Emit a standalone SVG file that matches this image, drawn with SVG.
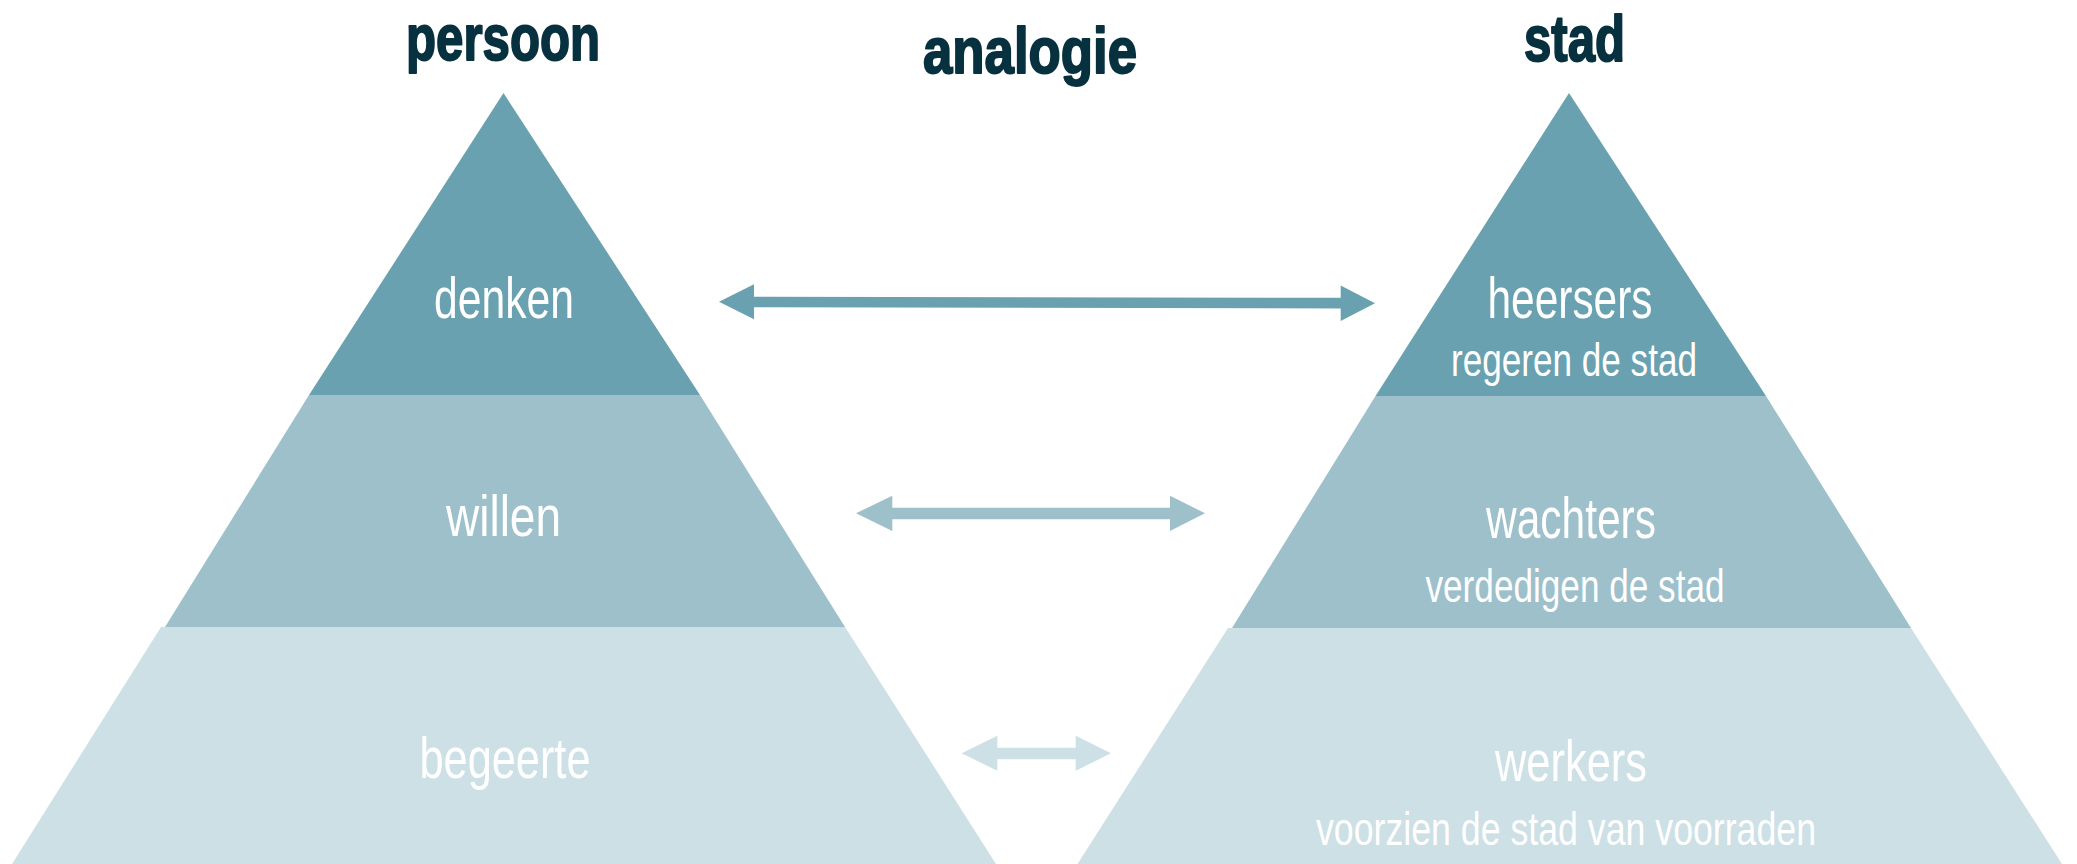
<svg xmlns="http://www.w3.org/2000/svg" width="2077" height="864" viewBox="0 0 2077 864">
  <style>
    .t1 { fill: #69a1b0; }
    .t2 { fill: #9dc0ca; }
    .t3 { fill: #cde0e6; }
    .title { font-family: "Liberation Sans", Arial, sans-serif; font-weight: bold; font-size: 64px; fill: #07313f; stroke: #07313f; stroke-width: 2px; stroke-linejoin: round; text-anchor: middle; }
    .lbl { font-family: "Liberation Sans", Arial, sans-serif; font-size: 58px; fill: #ffffff; text-anchor: middle; }
    .sub { font-family: "Liberation Sans", Arial, sans-serif; font-size: 46px; fill: #ffffff; text-anchor: middle; }
  </style>
  <rect width="2077" height="864" fill="#ffffff"/>

  <g id="title-persoon"><text class="title" x="503" y="60" textLength="194" lengthAdjust="spacingAndGlyphs">persoon</text></g>
  <g id="title-analogie"><text class="title" x="1030" y="73" textLength="214" lengthAdjust="spacingAndGlyphs">analogie</text></g>
  <g id="title-stad"><text class="title" x="1574.5" y="61" textLength="101" lengthAdjust="spacingAndGlyphs">stad</text></g>

  <g id="persoon-pyramid">
    <g id="denken">
      <polygon class="t1" points="503.5,93 700,395 309,395"/>
      <text class="lbl" x="504" y="318" textLength="140" lengthAdjust="spacingAndGlyphs">denken</text>
    </g>
    <g id="willen">
      <polygon class="t2" points="309,395 700,395 845,627 165,627"/>
      <text class="lbl" x="503.5" y="536" textLength="115" lengthAdjust="spacingAndGlyphs">willen</text>
    </g>
    <g id="begeerte">
      <polygon class="t3" points="161,627 845,627 996,864 12,864"/>
      <text class="lbl" x="505" y="778" textLength="171" lengthAdjust="spacingAndGlyphs">begeerte</text>
    </g>
  </g>

  <g id="stad-pyramid">
    <g id="heersers">
      <polygon class="t1" points="1569,93 1766,396 1375.5,396"/>
      <text class="lbl" x="1570" y="318" textLength="165" lengthAdjust="spacingAndGlyphs">heersers</text>
      <text class="sub" x="1574" y="376" textLength="246" lengthAdjust="spacingAndGlyphs">regeren de stad</text>
    </g>
    <g id="wachters">
      <polygon class="t2" points="1375.5,396 1766,396 1911,628 1232,628"/>
      <text class="lbl" x="1571" y="538" textLength="170" lengthAdjust="spacingAndGlyphs">wachters</text>
      <text class="sub" x="1575" y="602" textLength="299" lengthAdjust="spacingAndGlyphs">verdedigen de stad</text>
    </g>
    <g id="werkers">
      <polygon class="t3" points="1228,628 1911,628 2062,864 1077.5,864"/>
      <text class="lbl" x="1571" y="781" textLength="152" lengthAdjust="spacingAndGlyphs">werkers</text>
      <text class="sub" x="1566" y="845" textLength="500" lengthAdjust="spacingAndGlyphs">voorzien de stad van voorraden</text>
    </g>
  </g>

  <g id="connectors">
    <polygon class="t1" points="719,301.7 754,284.2 754,296.7 1340.7,297.8 1340.7,285.5 1375,303.3 1340.7,321 1340.7,308.5 754,307.3 754,319.3"/>
    <polygon class="t2" points="856,513.3 892.3,495.7 892.3,507.7 1170,507.7 1170,495.7 1205,513.3 1170,531 1170,519.3 892.3,519.3 892.3,531"/>
    <polygon class="t3" points="961.7,753.3 997.3,735.7 997.3,747.7 1075.7,747.7 1075.7,735.7 1111,753.3 1075.7,770.7 1075.7,759.3 997.3,759.3 997.3,770.7"/>
  </g>
</svg>
